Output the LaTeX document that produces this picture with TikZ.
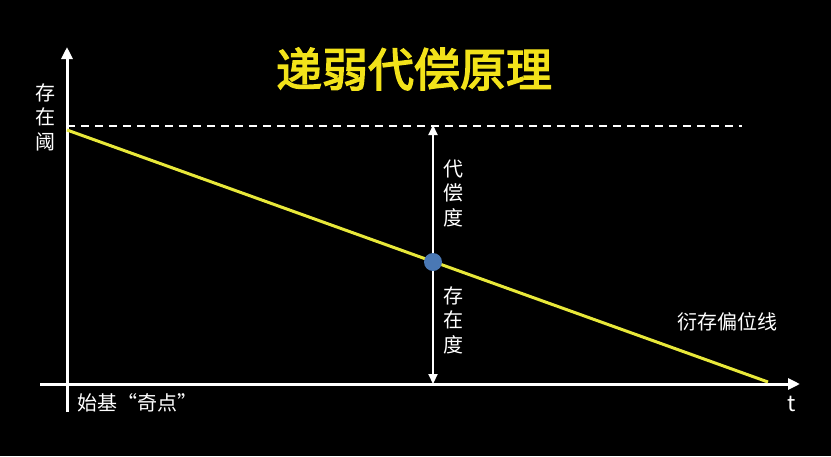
\documentclass[tikz,border=0pt]{standalone}
\usepackage{fontspec}
\newfontfamily\cjk{Noto Sans CJK SC}
\newfontfamily\cjktitle[FakeBold=3]{Noto Sans CJK SC}
\usetikzlibrary{arrows.meta}
\definecolor{ttl}{HTML}{F2E21A}
\definecolor{lineyel}{HTML}{E8E83A}
\definecolor{dotblue}{HTML}{4A78B4}
\tikzset{
  axis/.style={draw=white, line width=3pt, -{Triangle[length=12pt,width=11pt]}},
  lbl/.style={text=white, font=\cjk\fontsize{20}{24.5}\selectfont, align=center, inner sep=0pt},
}
\begin{document}
\begin{tikzpicture}[x=1pt,y=-1pt]
\fill[black] (0,0) rectangle (831,456);
\useasboundingbox (0,0) rectangle (831,456);
% coordinates
\coordinate (yb) at (67,412);
\coordinate (yt) at (67,47);
\coordinate (xl) at (40,384);
\coordinate (xr) at (800,384);
\coordinate (dl) at (67,126);
\coordinate (dr) at (742,126);
\coordinate (ls) at (67,130);
\coordinate (le) at (768,382);
\coordinate (at) at (433,125);
\coordinate (ab) at (433,384);
% axes
\draw[axis] (yb) -- (yt);
\draw[axis] (xl) -- (xr);
% dashed threshold
\draw[white, line width=2.6pt, dash pattern=on 8pt off 6pt] (dl) -- (dr);
% yellow line
\draw[lineyel, line width=3pt] (ls) -- (le);
% double arrow
\draw[white, line width=2.2pt, {Triangle[length=10pt,width=9pt]}-{Triangle[length=10pt,width=9pt]}] (at) -- (ab);
% dot
\node[circle, fill=dotblue, minimum size=18pt, inner sep=0pt] (dot) at (433,262) {};
% title
\node[text=ttl, font=\cjktitle\fontsize{46}{50}\selectfont, inner sep=0pt] (title) at (414,69) {递弱代偿原理};
% labels
\node[lbl] (cunzaiyu) at (45,117) {存\\在\\阈};
\node[lbl] (daichang) at (453,193) {代\\偿\\度};
\node[lbl] (cunzaidu) at (453,320) {存\\在\\度};
\node[lbl] (yancun) at (727,322) {衍存偏位线};
\node[lbl, font=\cjk\fontsize{22}{24}\selectfont] (t) at (792,404) {t};
\node[lbl, anchor=west] (shiji) at (77,403) {始基“奇点”};
\end{tikzpicture}
\end{document}
